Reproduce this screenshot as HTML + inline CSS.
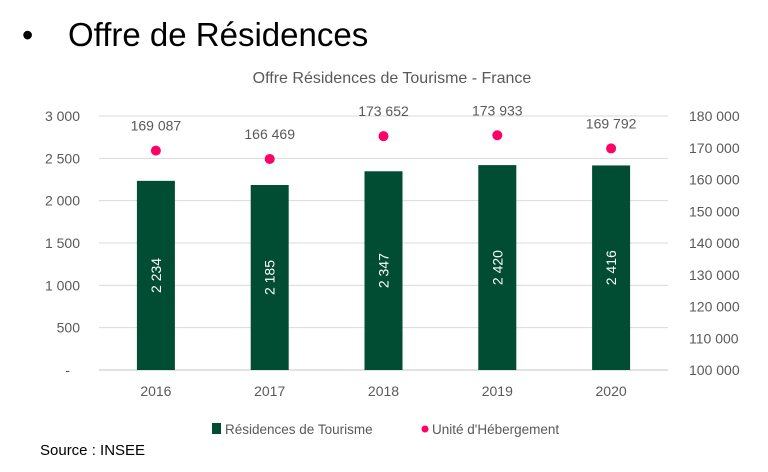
<!DOCTYPE html>
<html><head><meta charset="utf-8"><style>
body{margin:0;width:768px;height:472px;background:#fff;overflow:hidden;font-family:"Liberation Sans",sans-serif}
svg{position:absolute;left:0;top:0}
</style></head><body>
<svg id="c" width="768" height="472">
<text x="22" y="46" font-size="32" fill="#000">•</text>
<text x="68" y="46" font-size="33" fill="#000">Offre de Résidences</text>
<text x="392" y="83" font-size="16" fill="#595959" text-anchor="middle">Offre Résidences de Tourisme - France</text>
<g id="g"></g>
<rect x="212" y="423" width="9" height="11" fill="#004d33"/>
<text x="225" y="434" font-size="13.5" fill="#595959">Résidences de Tourisme</text>
<circle cx="425" cy="429" r="3.5" fill="#ff0066"/>
<text x="432" y="434" font-size="13.5" fill="#595959">Unité d'Hébergement</text>
<text x="40" y="455" font-size="15" fill="#000">Source : INSEE</text>
</svg>
<script>
const categories=["2016","2017","2018","2019","2020"];
const residences=[2234,2185,2347,2420,2416];
const unites=[169087,166469,173652,173933,169792];
const leftTicks=[0,500,1000,1500,2000,2500,3000];
const rightTicks=[100000,110000,120000,130000,140000,150000,160000,170000,180000];
const NS="http://www.w3.org/2000/svg",g=document.getElementById("g");
const X0=99,X1=668,Y0=370,Y1=116,band=(X1-X0)/categories.length;
const yL=v=>Y0-(v/3000)*(Y0-Y1);
const yR=v=>Y0-((v-100000)/80000)*(Y0-Y1);
const xC=i=>X0+band*(i+0.5);
const fmt=v=>v===0?"-":String(v).replace(/\B(?=(\d{3})+(?!\d))/g," ");
function el(t,a,txt){const e=document.createElementNS(NS,t);for(const k in a)e.setAttribute(k,a[k]);if(txt!==undefined)e.textContent=txt;g.appendChild(e);return e;}
leftTicks.forEach(v=>{
 const l=el("line",{x1:X0,x2:X1,y1:yL(v),y2:yL(v),stroke:"#d9d9d9","stroke-width":v===0?1.5:1});
 
 
 const t=el("text",{x:v===0?70:80,y:yL(v)+5,"font-size":14,fill:"#595959","text-anchor":"end"},fmt(v));
 
 
});
rightTicks.forEach(v=>{
 const t=el("text",{x:689,y:yR(v)+5,"font-size":14,fill:"#595959"},fmt(v));
 
 
});
categories.forEach((c,i)=>{
 const x=xC(i),bw=38;
 const r=el("rect",{x:x-bw/2,y:yL(residences[i]),width:bw,height:Y0-yL(residences[i]),fill:"#004d33"});
 
 
 const ly=(yL(residences[i])+Y0)/2;
 const bl=el("text",{x:x,y:ly,"font-size":14,fill:"#fff","text-anchor":"middle","dominant-baseline":"central",transform:`rotate(-90 ${x} ${ly})`},fmt(residences[i]));
 
 
 const d=el("circle",{cx:x,cy:yR(unites[i]),r:5,fill:"#ff0066"});
 
 
 const dl=el("text",{x:x,y:yR(unites[i])-20,"font-size":14,fill:"#595959","text-anchor":"middle"},fmt(unites[i]));
 
 
 const xl=el("text",{x:x,y:396,"font-size":14,fill:"#595959","text-anchor":"middle"},c);
 
 
});
</script>
</body></html>
